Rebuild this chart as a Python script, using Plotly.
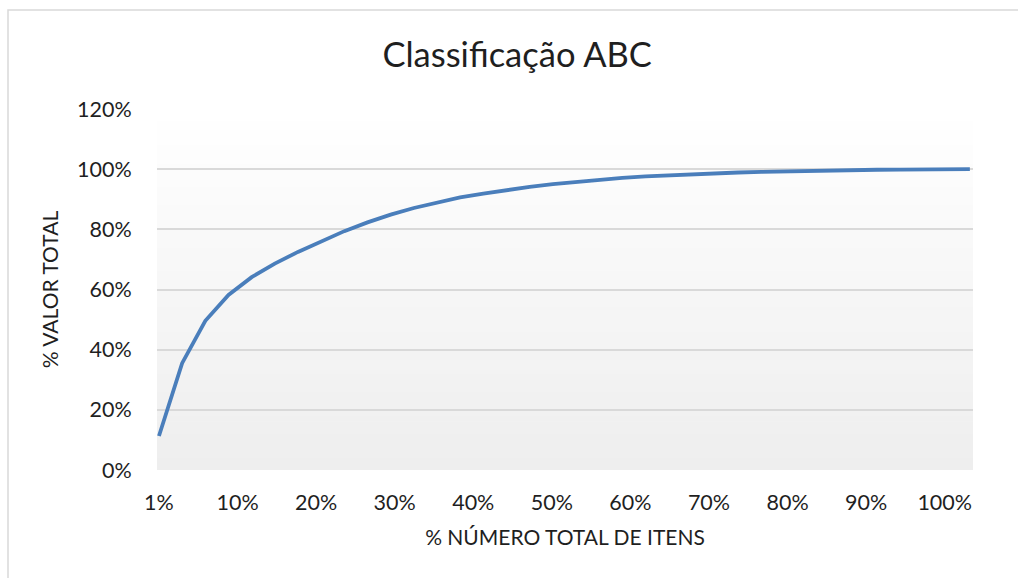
import plotly.graph_objects as go

# ---- data ----
tick_labels = ["1%", "10%", "20%", "30%", "40%", "50%", "60%", "70%", "80%", "90%", "100%"]
tick_positions = [0, 10, 20, 30, 40, 50, 60, 70, 80, 90, 100]

# position of each item along the category axis (10 units per label step)
item_position = [0.0, 2.95, 5.90, 8.85, 11.80, 14.74, 17.69, 20.64, 23.59, 26.54,
                 29.49, 32.44, 35.38, 38.33, 41.28, 44.23, 47.18, 50.13, 53.08, 56.03,
                 58.97, 61.92, 64.87, 67.82, 70.77, 73.72, 76.67, 79.62, 82.56, 85.51,
                 88.46, 91.41, 94.36, 97.31, 100.26, 103.2]
# cumulative % of total value
valor_acumulado = [0.113, 0.355, 0.496, 0.582, 0.641, 0.686, 0.725, 0.761, 0.794, 0.823,
                   0.849, 0.871, 0.890, 0.906, 0.919, 0.931, 0.941, 0.950, 0.958, 0.965,
                   0.971, 0.976, 0.980, 0.9835, 0.9865, 0.989, 0.991, 0.993, 0.9945, 0.996,
                   0.997, 0.998, 0.9988, 0.9994, 0.9998, 1.000]

FONT = "Lato"
TXT = "#1f1f1f"

fig = go.Figure()
fig.add_trace(go.Scatter(
    x=item_position, y=valor_acumulado, mode="lines",
    line=dict(color="#4a7ebb", width=3.8), hoverinfo="skip", showlegend=False,
))

# gradient plot-area background (white at top -> light grey at bottom)
shapes = []
n = 60
for i in range(n):
    t = i / (n - 1)
    c = int(round(255 - (255 - 238) * (1 - t)))
    shapes.append(dict(type="rect", xref="paper", yref="paper",
                       x0=0, x1=1, y0=i / n, y1=(i + 1) / n + 0.002,
                       fillcolor=f"rgb({c},{c},{c})", line=dict(width=0), layer="below"))
# outer chart border
shapes.append(dict(type="rect", xref="paper", yref="paper",
                   x0=-0.1826, x1=1.3, y0=-0.5, y1=1.2742,
                   fillcolor="rgba(0,0,0,0)", line=dict(color="#d9d9d9", width=1.5),
                   layer="above"))

fig.update_layout(
    width=1018, height=578,
    margin=dict(l=157, r=45, t=109, b=108),
    paper_bgcolor="white", plot_bgcolor="white",
    shapes=shapes,
    title=dict(text="Classificação ABC", x=0.508, xref="container", xanchor="center",
               y=0.905, yref="container", yanchor="middle",
               font=dict(family=FONT, size=34.5, color=TXT)),
    font=dict(family=FONT, color=TXT),
    xaxis=dict(range=[-0.25, 103.6], tickvals=tick_positions, ticktext=tick_labels,
               showgrid=False, zeroline=False, showline=False,
               ticks="outside", ticklen=13, tickcolor="rgba(0,0,0,0)",
               tickfont=dict(family=FONT, size=21.5, color=TXT),
               title=dict(text="% NÚMERO TOTAL DE ITENS", standoff=16,
                          font=dict(family=FONT, size=21, color=TXT))),
    yaxis=dict(range=[0, 1.2], dtick=0.2, tickformat=".0%",
               showgrid=True, gridcolor="#d9d9d9", gridwidth=1.5,
               zeroline=False, showline=False,
               ticks="outside", ticklen=20, tickcolor="rgba(0,0,0,0)",
               tickfont=dict(family=FONT, size=21.5, color=TXT),
               title=dict(text="% VALOR TOTAL", standoff=12,
                          font=dict(family=FONT, size=21, color=TXT))),
)

fig.write_html("out.html", config={"displayModeBar": False},
               post_script="document.body.style.margin='0';")
